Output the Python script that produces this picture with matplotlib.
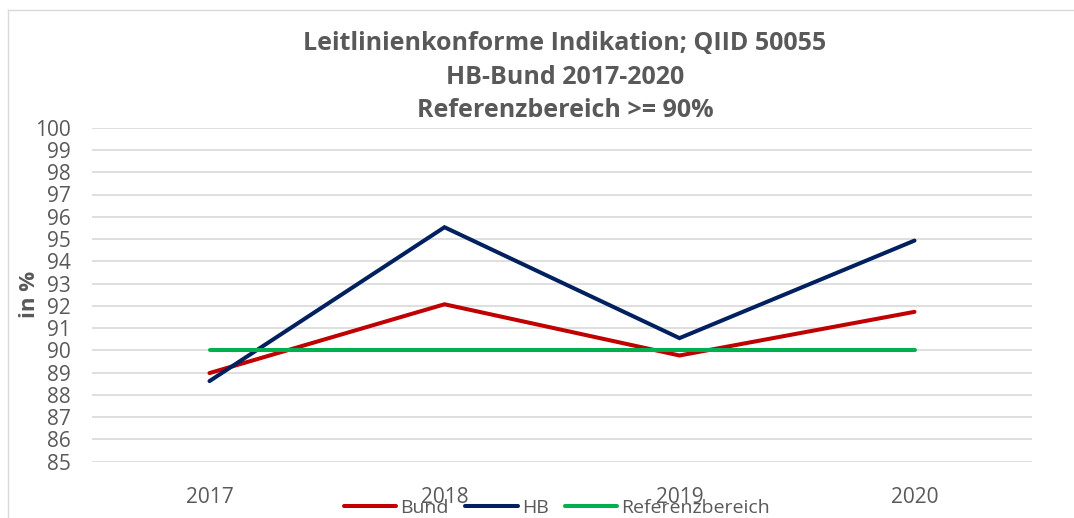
import matplotlib
matplotlib.use("Agg")
import matplotlib.pyplot as plt
from matplotlib.lines import Line2D

years = ["2017", "2018", "2019", "2020"]
bund = [88.98, 92.07, 89.77, 91.73]
hb = [88.62, 95.53, 90.55, 94.93]
referenz = [90, 90, 90, 90]
yticks = list(range(85, 101))

title = "Leitlinienkonforme Indikation; QIID 50055\nHB-Bund 2017-2020\nReferenzbereich >= 90%"

plt.rcParams['font.family'] = ['Open Sans', 'DejaVu Sans']
TXT = '#595959'

fig = plt.figure(figsize=(10.74, 5.18), dpi=100)
ax = fig.add_axes([92/1074, 1-461.7/518, (1032-92)/1074, (461.7-127.7)/518])

x = list(range(len(years)))
ax.plot(x, bund, color='#C00000', lw=2.9, solid_capstyle='round', solid_joinstyle='miter', label='Bund', zorder=3)
ax.plot(x, hb, color='#002060', lw=2.9, solid_capstyle='round', solid_joinstyle='miter', label='HB', zorder=4)
ax.plot(x, referenz, color='#00B050', lw=2.9, solid_capstyle='round', label='Referenzbereich', zorder=5)

ax.set_xlim(-0.5, len(years) - 0.5)
ax.set_ylim(85, 100)
ax.set_yticks(yticks)
ax.set_yticklabels([str(v) for v in yticks])
ax.set_xticks(x)
ax.set_xticklabels(years)
ax.grid(axis='y', color='#d9d9d9', lw=1.2, zorder=0)
ax.set_axisbelow(True)
for s in ax.spines.values():
    s.set_visible(False)
ax.tick_params(axis='both', length=0, labelsize=15, labelcolor=TXT)
ax.tick_params(axis='x', pad=18)
ax.tick_params(axis='y', pad=15)
ax.set_ylabel('in %', fontsize=16, fontweight='bold', color=TXT)
ax.yaxis.set_label_coords((40 - 92) / 940, 0.5)

fig.text(565/1074, 1-77/518, title, ha='center', va='center', fontsize=18,
         fontweight='bold', color=TXT, linespacing=1.45)

handles = [Line2D([], [], color='#C00000', lw=2.9, solid_capstyle='round'),
           Line2D([], [], color='#002060', lw=2.9, solid_capstyle='round'),
           Line2D([], [], color='#00B050', lw=2.9, solid_capstyle='round')]
leg = fig.legend(handles, ['Bund', 'HB', 'Referenzbereich'], loc='center',
                 bbox_to_anchor=(557/1074, 1-508/518), ncol=3, frameon=False,
                 fontsize=14, handlelength=2.7, handletextpad=0.2, columnspacing=0.85,
                 borderpad=0)
for t in leg.get_texts():
    t.set_color(TXT)

# chart frame (top and left edges visible)
fig.add_artist(Line2D([8/1074, 1], [1-10/518, 1-10/518], color='#d9d9d9', lw=1, transform=fig.transFigure))
fig.add_artist(Line2D([8/1074, 8/1074], [0, 1-10/518], color='#d9d9d9', lw=1, transform=fig.transFigure))

fig.savefig('out.png', dpi=100, facecolor='white')
